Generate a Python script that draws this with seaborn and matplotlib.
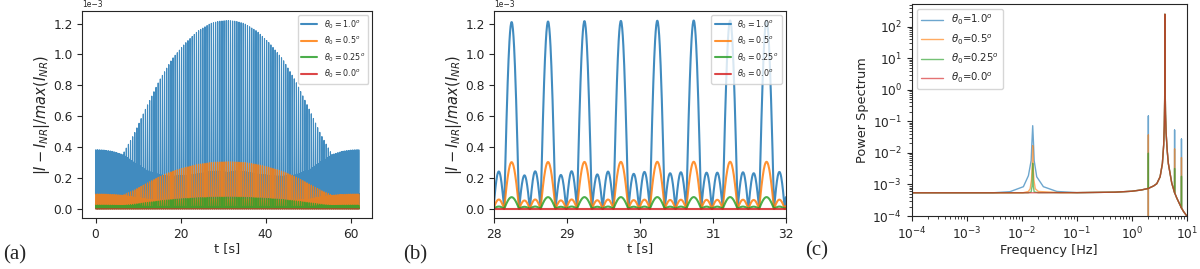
import numpy as np
import matplotlib
matplotlib.use('Agg')
import matplotlib.pyplot as plt
import seaborn as sns

# legend labels and colours
labels_ab = [r'$\theta_0 = 1.0^o$', r'$\theta_0 = 0.5^o$', r'$\theta_0 = 0.25^o$', r'$\theta_0 = 0.0^o$']
labels_c = [r'$\theta_0$=1.0$^o$', r'$\theta_0$=0.5$^o$', r'$\theta_0$=0.25$^o$', r'$\theta_0$=0.0$^o$']
colors = ['#1f77b4', '#ff7f0e', '#2ca02c', '#d62728']

# peak height of each curve relative to theta0=1.0 (panel b: 1.2, 0.3, 0.075, 0)
rel_peak = [1.0, 0.25, 0.0625, 0.0]

# time signal: one tall arch + two small arches every 0.5 s
period = 0.5
first_tall = 0.238
tall_frac = 0.41

# envelopes for theta0=1.0 in units of 1e-3 for t <= 31 (mirrored after)
env_t = [0, 2, 4, 6.5, 9, 12, 15, 18, 21, 24, 27, 29, 31]
tall_env = [0.10, 0.18, 0.26, 0.357, 0.48, 0.66, 0.83, 0.97, 1.07, 1.15, 1.20, 1.215, 1.22]
small_env = [0.383, 0.38, 0.372, 0.35, 0.30, 0.24, 0.205, 0.195, 0.20, 0.21, 0.225, 0.232, 0.235]
small_split = [0.0, 0.0, 0.0, 0.0, 0.005, 0.01, 0.015, 0.015, 0.015, 0.015, 0.015, 0.012, 0.0]

# spectrum (panel c): shared 4 Hz carrier line (= theta0 0.0 curve)
carrier_f = [1e-4, 1e-3, 1e-2, 0.1, 0.5, 1.0, 1.5, 2.0, 2.5, 2.85, 3.27, 3.6, 3.8, 3.9, 3.96, 3.98,
             3.99, 4.0, 4.01, 4.02, 4.04, 4.1, 4.2, 4.4, 4.62, 5.33, 6.0, 6.58, 8.0, 8.7, 10.0]
carrier_p = [5.45e-4, 5.45e-4, 5.45e-4, 5.5e-4, 5.7e-4, 6.1e-4, 6.7e-4, 7.5e-4, 9e-4, 1.06e-3, 1.75e-3,
             4.6e-3, 0.018, 0.074, 0.46, 1.85, 7.4, 250, 18, 4.5, 1.1, 0.18, 0.045, 0.012, 4.6e-3,
             1.1e-3, 5.5e-4, 3.7e-4, 1.8e-4, 1.4e-4, 1.0e-4]

# low frequency peak (~1/62 Hz) per theta0
low_f = [[3e-3, 6.1e-3, 0.0107, 0.0132, 0.0148, 0.0153, 0.0158, 0.0163, 0.0168, 0.0187, 0.0247, 0.0434, 0.1],
         [0.0105, 0.0132, 0.0142, 0.0150, 0.0155, 0.0158, 0.0161, 0.0166, 0.0176, 0.02, 0.05],
         [0.013, 0.0148, 0.0154, 0.0158, 0.0162, 0.0168, 0.02]]
low_p = [[5.45e-4, 5.9e-4, 8.5e-4, 1.9e-3, 5.7e-3, 0.022, 0.073, 0.022, 5.7e-3, 1.75e-3, 8.5e-4, 6e-4, 5.5e-4],
         [5.45e-4, 6e-4, 7.3e-4, 1.4e-3, 4e-3, 0.017, 4e-3, 1.4e-3, 7.3e-4, 6e-4, 5.5e-4],
         [5.45e-4, 5.8e-4, 9e-4, 0.0047, 9e-4, 5.8e-4, 5.5e-4]]

# narrow lines at 2, 6 and 8 Hz
spike_f = [2.0, 6.0, 8.0]
spike_top = [[0.148, 0.053, 0.0275], [0.037, 0.0133, 0.0071], [0.0097, 0.0032, 0.0018]]
spike_low = [[1e-6, 5.5e-4, 1.8e-4], [1e-6, 5.5e-4, 1.8e-4], [7.5e-4, 5.5e-4, 1.8e-4]]


def mirror(vals, sign=1):
    vals = np.array(vals, dtype=float)
    return np.concatenate([vals, sign * vals[::-1][1:]])


# build the |I - I_NR| signal for theta0 = 1.0
t = np.linspace(0, 62, 15501)
tt = np.concatenate([env_t, 62 - np.array(env_t[::-1][1:], dtype=float)])
A = np.interp(t, tt, mirror(tall_env))
B = np.interp(t, tt, mirror(small_env))
S = np.interp(t, tt, mirror(small_split, -1))
B1, B2 = B - S, B + S

p = ((t - first_tall) / period + 0.5) % 1 - 0.5
h = tall_frac / 2
w_s = 0.5 - h
sig = np.where(np.abs(p) < h, A * np.sin(np.pi * (p + h) / tall_frac),
               np.where(p >= h, B1 * np.sin(np.pi * (p - h) / w_s),
                        B2 * np.sin(np.pi * (p + 0.5) / w_s)))
sig = np.clip(sig, 0, None) * 1e-3


def spectrum(i):
    if i >= len(low_f):
        return list(carrier_f), list(carrier_p)
    lf, lp = low_f[i], low_p[i]
    fs, ps = [], []
    for f, v in zip(carrier_f, carrier_p):
        if f < lf[0]:
            fs.append(f)
            ps.append(v)
    fs += lf
    ps += lp
    for f, v in zip(carrier_f, carrier_p):
        if f > lf[-1]:
            fs.append(f)
            ps.append(v)
            if f in spike_f:
                k = spike_f.index(f)
                fs += [f, f, f]
                ps += [spike_top[i][k], spike_low[i][k], v]
    return fs, ps


sns.set_style('ticks')
plt.rcParams['font.family'] = 'DejaVu Sans'
plt.rcParams['mathtext.fontset'] = 'dejavusans'

fig = plt.figure(figsize=(12, 2.69), dpi=100)
ax_a = fig.add_axes([0.0686, 0.1885, 0.2417, 0.7706])
ax_b = fig.add_axes([0.4119, 0.1885, 0.2428, 0.7706])
ax_c = fig.add_axes([0.7598, 0.197, 0.2292, 0.788])

for ax, lw in ((ax_a, 0.8), (ax_b, 1.5)):
    for i in range(4):
        sns.lineplot(x=t, y=sig * rel_peak[i], ax=ax, color=colors[i], lw=lw, alpha=0.85,
                     label=labels_ab[i], estimator=None, sort=False)
    ax.set_xlabel('t [s]', fontsize=9.3, labelpad=1)
    ax.set_ylabel(r'$|I - I_{NR}|/max(I_{NR})$', fontsize=10.5, labelpad=1)
    ax.tick_params(labelsize=8.8)
    ax.ticklabel_format(axis='y', style='sci', scilimits=(0, 0))
    ax.yaxis.get_offset_text().set_fontsize(5.5)
    ax.set_ylim(-0.061e-3, 1.281e-3)
    ax.set_yticks(np.arange(0, 1.21e-3, 0.2e-3))
    leg = ax.legend(loc='upper right', fontsize=5.8, handlelength=2)
    for ln in leg.get_lines():
        ln.set_linewidth(1.5)

ax_a.set_xlim(-3.1, 65.1)
ax_a.set_xticks([0, 20, 40, 60])
ax_b.set_xlim(28, 32)
ax_b.set_xticks([28, 29, 30, 31, 32])

for i in range(4):
    fs, ps = spectrum(i)
    sns.lineplot(x=fs, y=ps, ax=ax_c, color=colors[i], lw=1.0, alpha=0.65,
                 label=labels_c[i], estimator=None, sort=False)
ax_c.set_xscale('log')
ax_c.set_yscale('log')
ax_c.set_xlim(1e-4, 10)
ax_c.set_ylim(1e-4, 525)
ax_c.set_xlabel('Frequency [Hz]', fontsize=9.3, labelpad=1)
ax_c.set_ylabel('Power Spectrum', fontsize=9.3, labelpad=2)
ax_c.tick_params(labelsize=8.8)
ax_c.legend(loc='upper left', fontsize=7.3, handlelength=2.2)

fig.text(0.003, 0.037, '(a)', family='Liberation Serif', fontsize=15)
fig.text(0.336, 0.037, '(b)', family='Liberation Serif', fontsize=15)
fig.text(0.671, 0.052, '(c)', family='Liberation Serif', fontsize=15)

fig.savefig('out.png', dpi=100)
